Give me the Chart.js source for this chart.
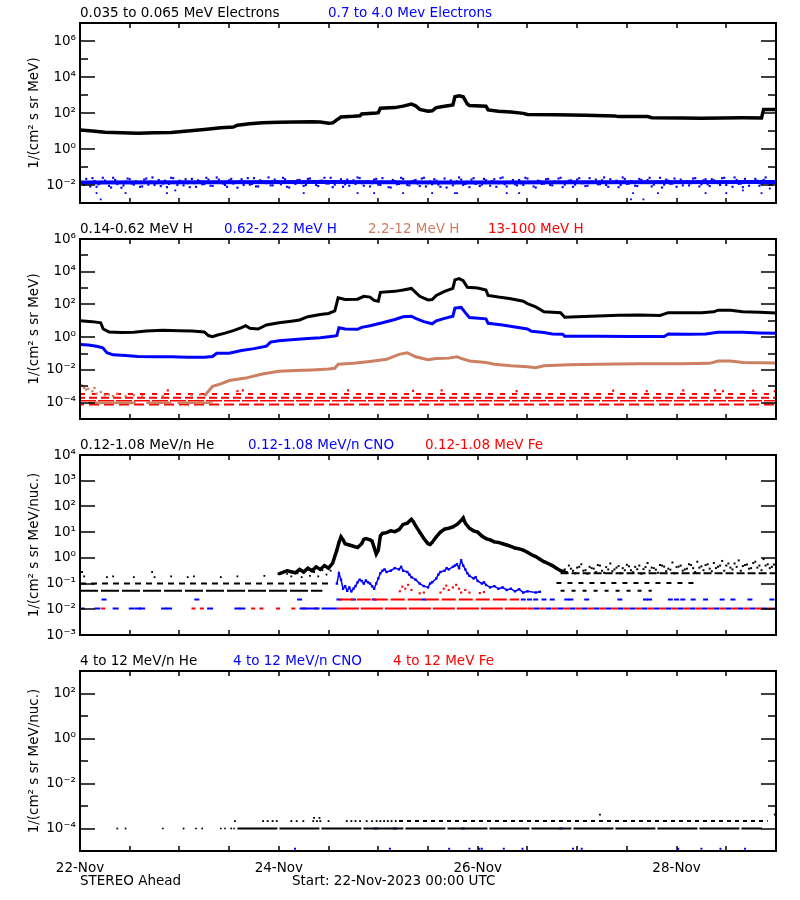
<!DOCTYPE html>
<html>
<head>
<meta charset="utf-8">
<script src="https://cdn.jsdelivr.net/npm/chart.js@4.4.1/dist/chart.umd.min.js"></script>
<style>
body{margin:0;background:#fff;width:800px;height:900px;position:relative;overflow:hidden;font-family:'DejaVu Sans',sans-serif;font-size:13.5px}
canvas{position:absolute;left:0;top:0}
.t{position:absolute;white-space:nowrap;line-height:1}
</style>
</head>
<body>
<canvas id="p1" width="800" height="900"></canvas>
<canvas id="p2" width="800" height="900"></canvas>
<canvas id="p3" width="800" height="900"></canvas>
<canvas id="p4" width="800" height="900"></canvas>

<div class="t" style="left:80px;top:6px">0.035 to 0.065 MeV Electrons</div>
<div class="t" style="left:328px;top:6px;color:#0000ff">0.7 to 4.0 Mev Electrons</div>
<div class="t" style="left:80px;top:222px">0.14-0.62 MeV H</div>
<div class="t" style="left:224px;top:222px;color:#0000ff">0.62-2.22 MeV H</div>
<div class="t" style="left:368px;top:222px;color:#cd7f62">2.2-12 MeV H</div>
<div class="t" style="left:488px;top:222px;color:#ff0000">13-100 MeV H</div>
<div class="t" style="left:80px;top:438px">0.12-1.08 MeV/n He</div>
<div class="t" style="left:248px;top:438px;color:#0000ff">0.12-1.08 MeV/n CNO</div>
<div class="t" style="left:425px;top:438px;color:#ff0000">0.12-1.08 MeV Fe</div>
<div class="t" style="left:80px;top:654px">4 to 12 MeV/n He</div>
<div class="t" style="left:233px;top:654px;color:#0000ff">4 to 12 MeV/n CNO</div>
<div class="t" style="left:393px;top:654px;color:#ff0000">4 to 12 MeV Fe</div>
<div class="t" style="left:80px;top:874px">STEREO Ahead</div>
<div class="t" style="left:292px;top:874px">Start: 22-Nov-2023 00:00 UTC</div>

<script>
// time axis: hours since 22-Nov-2023 00:00 UTC, values stored as log10(flux)
const dayLabels = ['22-Nov', '24-Nov', '26-Nov', '28-Nov'];
const dayHours = [0, 48, 96, 144];

// ---- panel 1: electrons
const e1Low = [[0,1.05],[3,1.0],[6,0.93],[10,0.9],[14,0.88],[18,0.9],[22,0.92],[26,1.0],[30,1.08],[34,1.18],[37,1.22],[38,1.32],[41,1.4],[44,1.46],[48,1.48],[52,1.5],[56,1.52],[58,1.5],[60,1.43],[61,1.45],[62,1.62],[63,1.78],[66,1.82],[67.6,1.85],[68,1.95],[71.5,2.0],[72,2.02],[72.5,2.26],[76,2.3],[78,2.38],[80,2.5],[81,2.4],[82,2.2],[84,2.1],[85,2.12],[86,2.3],[88,2.38],[90,2.45],[90.5,2.9],[91.5,2.96],[92.5,2.9],[93.5,2.5],[94,2.42],[98,2.38],[98.5,2.17],[101,2.1],[104,2.05],[107,1.98],[108,1.92],[115,1.9],[122,1.87],[129,1.84],[130,1.8],[137,1.8],[138,1.74],[145,1.72],[150,1.71],[155,1.72],[160,1.73],[164.5,1.72],[165,2.2],[168,2.2]];
const e2Core = [[0,-1.86],[30,-1.85],[60,-1.84],[90,-1.86],[120,-1.85],[168,-1.84]];
const e2Speck = [
-1.7,-2.0,-1.85,-1.62,-2.1,-1.9,-1.75,-2.05,-1.6,-1.95,
-2.15,-1.8,-1.68,-1.98,-1.88,-2.08,-1.64,-1.82,-2.0,-1.72,
-1.92,-2.12,-1.6,-1.86,-1.76,-2.02,-1.9,-1.66,-2.1,-1.8,
-1.95,-1.7,-2.05,-1.58,-1.88,-2.0,-1.74,-1.92,-2.15,-1.68,
-1.84,-1.98,-1.62,-2.08,-1.78,-1.9,-2.02,-1.7,-1.86,-1.6,
-2.1,-1.82,-1.94,-1.72,-2.05,-1.66,-1.88,-2.0,-1.76,-1.6,
-1.92,-2.12,-1.8,-1.68,-1.96,-2.04,-1.74,-1.58,-1.9,-1.84,
-2.08,-1.7,-1.98,-1.62,-1.86,-2.14,-1.78,-1.94,-1.66,-2.0,
-1.82,-1.72,-2.06,-1.6,-1.9,-1.96,-1.76,-2.1,-1.64,-1.88,
-2.02,-1.8,-1.7,-1.94,-2.12,-1.62,-1.86,-1.98,-1.74,-2.04,
-1.68,-1.9,-1.58,-2.08,-1.82,-1.96,-1.72,-2.0,-1.64,-1.88,
-2.14,-1.78,-1.92,-1.66,-2.02,-1.84,-1.6,-1.98,-1.76,-2.1,
-1.7,-1.9,-2.06,-1.62,-1.86,-1.96,-1.74,-2.0,-1.68,-1.82,
-2.12,-1.58,-1.94,-1.78,-2.04,-1.66,-1.88,-1.72,-2.08,-1.84,
-1.6,-1.98,-1.76,-1.92,-2.1,-1.7,-1.86,-2.02,-1.64,-1.8,
-1.96,-1.68,-2.06,-1.74,-1.9,-1.62,-2.0,-1.82,-1.58,-1.94,
-2.12,-1.78,-1.88,-1.66,-2.04,-1.72,-1.86,-1.98,-1.6];
// second pass, half-hour samples
const e2SpeckHalf = [
-1.9,-1.66,-2.08,-1.78,-1.96,-1.6,-1.84,-2.14,-1.72,-1.88,
-2.02,-1.64,-1.92,-1.8,-2.1,-1.7,-1.98,-1.58,-1.86,-2.06,
-1.76,-1.94,-1.62,-2.0,-1.82,-1.68,-2.12,-1.9,-1.74,-1.96,
-1.6,-2.04,-1.84,-1.7,-1.92,-2.1,-1.66,-1.88,-1.78,-2.0,
-1.62,-1.94,-2.08,-1.74,-1.86,-1.58,-2.02,-1.8,-1.96,-1.68,
-2.14,-1.84,-1.72,-1.9,-2.0,-1.64,-1.88,-2.06,-1.76,-1.92,
-1.6,-1.98,-1.82,-2.1,-1.7,-1.86,-1.94,-1.62,-2.04,-1.78,
-1.9,-1.66,-2.0,-1.84,-2.12,-1.72,-1.96,-1.6,-1.88,-2.02,
-1.76,-1.92,-1.64,-2.08,-1.8,-1.68,-1.98,-1.86,-2.14,-1.74,
-1.9,-1.58,-2.0,-1.82,-1.7,-1.94,-2.06,-1.66,-1.88,-1.78,
-2.1,-1.62,-1.96,-1.84,-1.72,-2.02,-1.9,-1.6,-1.86,-2.08,
-1.76,-1.94,-1.68,-2.0,-1.8,-1.64,-2.12,-1.88,-1.74,-1.98,
-1.62,-1.9,-2.04,-1.82,-1.7,-1.96,-1.58,-2.1,-1.86,-1.76,
-2.0,-1.66,-1.92,-1.84,-2.06,-1.72,-1.88,-1.6,-1.98,-1.8,
-2.14,-1.7,-1.94,-1.64,-1.86,-2.02,-1.78,-1.9,-1.62,-2.08,
-1.74,-1.96,-1.68,-1.88,-2.0,-1.6,-1.84,-2.1,-1.72,-1.92,
-1.66,-2.04,-1.82,-1.76,-1.94,-1.58,-1.98,-1.86];
const e2Out = [[4,-2.45],[5,-2.8],[11,-2.45],[21,-2.45],[23,-2.3],[54,-2.45],[67,-2.45],[71,-2.45],[78,-2.45],[85,-2.45],[90.5,-2.45],[91,-2.45],[103,-2.45],[106,-2.45],[133,-2.8],[133.5,-2.45],[136,-2.8],[139.5,-2.45],[151,-2.45],[156,-2.45],[160,-2.3],[164.5,-2.45],[166.5,-2.2]];

// ---- panel 2: protons
const hLow = [[0,1.0],[3,0.95],[5,0.88],[5.6,0.5],[7,0.32],[10,0.28],[13,0.3],[16,0.38],[20,0.42],[24,0.4],[27,0.38],[30,0.32],[31,0.1],[32,0.03],[33,0.12],[35,0.25],[37,0.4],[39,0.58],[40,0.7],[41,0.55],[43,0.5],[45,0.75],[48,0.88],[51,0.98],[53,1.05],[55,1.25],[58,1.38],[60,1.45],[61.5,1.6],[62.3,2.4],[64,2.3],[67,2.32],[68.5,2.5],[70,2.45],[71,2.25],[72,2.2],[72.5,2.74],[76,2.8],[78,2.88],[80,2.98],[82,2.5],[84,2.28],[85,2.3],[86,2.55],[88,2.8],[90,2.98],[90.5,3.5],[91.5,3.58],[92.5,3.45],[93.5,3.05],[96,3.0],[98,2.88],[98.5,2.55],[101,2.45],[104,2.35],[107,2.2],[108,2.05],[110,1.85],[112,1.55],[116,1.5],[117,1.22],[120,1.25],[125,1.3],[130,1.34],[135,1.35],[140,1.33],[142,1.5],[146,1.5],[150,1.5],[153,1.55],[154,1.65],[157,1.64],[160,1.55],[164,1.52],[168,1.48]];
const hMid = [[0,-0.45],[2,-0.48],[4,-0.55],[5.5,-0.65],[6.5,-0.95],[8,-1.08],[11,-1.12],[14,-1.18],[18,-1.2],[22,-1.2],[26,-1.22],[30,-1.22],[32,-1.18],[33,-0.98],[36,-0.98],[39,-0.82],[42,-0.7],[45,-0.55],[46,-0.3],[48,-0.22],[51,-0.15],[55,-0.08],[58,-0.03],[61,0.05],[62,0.1],[62.5,0.58],[64,0.5],[67,0.48],[68,0.6],[70,0.7],[73,0.88],[76,1.08],[78,1.25],[80,1.28],[81,1.15],[83,0.95],[85,0.82],[86,1.0],[88,1.15],[90,1.28],[90.5,1.78],[92,1.82],[93,1.5],[94,1.2],[98,1.12],[98.5,0.85],[102,0.75],[105,0.62],[108,0.5],[109,0.36],[112,0.28],[114,0.2],[116.5,0.18],[117,0.06],[125,0.05],[133,0.04],[141,0.04],[142,0.2],[147,0.18],[151,0.2],[154,0.3],[160,0.3],[164,0.26],[168,0.24]];
const hHigh = [[30,-3.6],[31,-3.3],[32,-3.0],[34,-2.85],[36,-2.65],[40,-2.5],[44,-2.25],[48,-2.08],[52,-2.03],[56,-2.0],[60,-1.95],[61.5,-1.9],[62.3,-1.65],[66,-1.6],[70,-1.48],[74,-1.35],[77,-1.05],[79,-0.95],[81,-1.2],[84,-1.38],[86,-1.3],[89,-1.28],[91,-1.2],[92,-1.3],[94,-1.45],[98,-1.55],[100,-1.65],[104,-1.75],[108,-1.8],[110,-1.86],[112,-1.75],[118,-1.68],[125,-1.65],[135,-1.63],[145,-1.62],[152,-1.6],[154,-1.46],[157,-1.46],[160,-1.55],[168,-1.58]];
const hHighEarly = [[0,-3.0],[0.5,-2.95],[1,-3.1],[1.5,-3.2],[2,-3.15],[3,-3.3],[3.5,-3.1],[4,-3.45],[5,-3.35],[6,-3.55],[7,-3.5],[8,-3.6],[9,-3.45],[11,-3.6],[13,-3.55],[15,-3.6],[20,-3.6],[27,-3.55],[29,-3.5]];
const hHighFloor = [[2,-4.0],[13.5,-4.0],[14,null],[16,-4.0],[22,-4.0],[23,null],[23.5,-4.0],[32,-4.0]];
const hTopLevels = [-3.47, -3.7, -3.88, -4.12];
const hTopDots = [[21.2,-3.25],[38,-3.3],[39.3,-3.25],[64.7,-3.25],[80.4,-3.28],[87.3,-3.25],[105.4,-3.3],[128.7,-3.27],[136.8,-3.3],[145.6,-3.25],[153.3,-3.25],[155.2,-3.3],[162.5,-3.27],[167.7,-3.3]];

// ---- panel 3: 0.12-1.08 MeV/n ions
const heEvent = [[48,-0.62],[50,-0.5],[52,-0.58],[53,-0.45],[54,-0.55],[55,-0.4],[56,-0.5],[57,-0.35],[58,-0.45],[59,-0.3],[60,-0.4],[61,-0.2],[61.5,0.05],[62,0.3],[62.5,0.6],[63,0.82],[63.5,0.7],[64,0.55],[65,0.5],[66,0.45],[67,0.4],[68,0.55],[68.5,0.72],[69,0.75],[70,0.7],[70.5,0.65],[71,0.4],[71.5,0.15],[72,0.3],[72.5,0.85],[73,0.95],[74,0.98],[75,1.05],[76,1.02],[77,1.1],[78,1.3],[79,1.35],[80,1.5],[80.5,1.4],[81,1.25],[82,1.0],[83,0.75],[84,0.55],[84.5,0.52],[85,0.6],[86,0.82],[87,1.0],[88,1.12],[89,1.15],[90,1.2],[91,1.3],[92,1.45],[92.5,1.55],[93,1.35],[94,1.15],[95,1.05],[96,1.0],[97,0.85],[98,0.75],[99,0.7],[100,0.62],[101,0.6],[102,0.55],[103,0.5],[104,0.45],[105,0.38],[106,0.35],[107,0.3],[108,0.22],[109,0.12],[110,0.05],[111,-0.05],[112,-0.15],[113,-0.22],[114,-0.3],[115,-0.4],[116,-0.5],[117,-0.55]];
const heBgDots = [[0.5,-0.55],[1,-0.72],[6.5,-0.75],[8,-0.72],[13,-0.75],[17.4,-0.55],[18,-0.75],[22,-0.72],[26,-0.75],[27.5,-0.72],[34,-0.75],[38,-0.72],[44.5,-0.7],[50,-0.62],[51,-0.72],[52.5,-0.6],[53.5,-0.75],[54.5,-0.45],[55.5,-0.7],[56.5,-0.55],[57.5,-0.72],[58.5,-0.48],[59.5,-0.65],[60.5,-0.5]];
const hePost = [
-0.45,-0.3,-0.5,-0.38,-0.25,-0.48,-0.35,-0.42,-0.28,-0.5,
-0.36,-0.22,-0.45,-0.32,-0.4,-0.27,-0.48,-0.35,-0.3,-0.44,
-0.2,-0.38,-0.46,-0.28,-0.34,-0.42,-0.18,-0.36,-0.3,-0.45,
-0.25,-0.4,-0.15,-0.33,-0.28,-0.42,-0.2,-0.35,-0.12,-0.3,
-0.38,-0.22,-0.1,-0.32,-0.26,-0.4,-0.15,-0.3,-0.05,-0.25,
-0.35,-0.2];
const hePostHalf = [
-0.55,-0.42,-0.6,-0.35,-0.5,-0.62,-0.4,-0.55,-0.3,-0.58,
-0.45,-0.52,-0.38,-0.6,-0.48,-0.33,-0.56,-0.44,-0.62,-0.36,
-0.5,-0.4,-0.58,-0.3,-0.52,-0.46,-0.6,-0.34,-0.5,-0.42,
-0.28,-0.55,-0.38,-0.48,-0.25,-0.52,-0.4,-0.3,-0.5,-0.22,
-0.45,-0.35,-0.5,-0.28,-0.42,-0.2,-0.38,-0.48,-0.3,-0.4,
-0.26];
const cnoEvent = [[62,-1.0],[62.5,-0.6],[63,-0.85],[63.5,-1.2],[64,-1.1],[64.5,-1.28],[65,-1.15],[65.5,-1.3],[66,-1.2],[66.5,-1.1],[67,-0.95],[67.5,-0.85],[68,-0.9],[68.5,-1.0],[69,-0.88],[69.5,-0.95],[70,-1.0],[70.5,-1.1],[71,-1.2],[71.5,-1.0],[72,-0.8],[72.5,-0.6],[73,-0.5],[73.5,-0.45],[74,-0.55],[75,-0.5],[76,-0.4],[77,-0.45],[77.5,-0.35],[78,-0.5],[79,-0.55],[79.5,-0.65],[80,-0.75],[81,-0.85],[82,-1.0],[83,-1.1],[84,-1.15],[84.5,-1.0],[85,-0.95],[86,-0.8],[86.5,-0.65],[87,-0.55],[88,-0.5],[88.5,-0.4],[89,-0.45],[90,-0.35],[90.5,-0.3],[91,-0.25],[91.5,-0.4],[92,-0.1],[92.5,-0.3],[93,-0.45],[93.5,-0.6],[94,-0.7],[95,-0.8],[95.5,-0.75],[96,-0.9],[97,-1.0],[97.5,-0.95],[98,-1.05],[99,-1.15],[100,-1.1],[101,-1.2],[102,-1.15],[103,-1.25],[104,-1.2],[105,-1.3],[106,-1.22],[107,-1.35],[108,-1.3],[110,-1.35],[111,-1.32]];
const cnoLowHours = [0.4,4.2,8.6,12.5,14,15,20.3,21.5,31.4,38,39.2];
const cnoMidHours = [5.8,28.2,53,62.5,66,71,83,107,108.5,110,112,114,117.5,118.5,122.3,130.3,136.5,137.5,142.5,144,145.5,148,151,155,157.6,161.7,167];
const feEvent = [[77.2,-1.3],[77.8,-1.12],[78.5,-1.2],[79.2,-1.05],[80,-1.25],[82,-1.38],[83,-1.35],[87,-1.35],[87.8,-1.2],[88.4,-1.08],[89,-1.25],[90,-1.15],[90.8,-1.05],[91.5,-1.2],[92,-1.35],[93,-1.25],[94,-1.35],[96.5,-1.37],[97.5,-1.33]];
const feLowHours = [5.6,27.4,29.4,41.8,43.8,47.8,51.5,54,57];
const ionLowLevel = -1.97;
const ionMidLevel = -1.62;

// ---- panel 4: 4-12 MeV/n ions
const he4Dots = [9,11,20,25,28,29.5,34,35,36.5,37.2];
const he4UpperHours = [37.4,44.2,45.3,46.5,47.5,51,52.3,53.9,56.3,57.2,58,60,64.4,65.5,66.5,67.6,69.2,70.5,71.6,72.5,73.4,74.3,75.2,76.2];
const he4High = [[56.5,-3.53],[57.8,-3.53],[125.5,-3.38],[167.7,-3.38]];
const cno4Hours = [51.9,74.8,89.1,94,96.4,97,102.3,106.8,119,121.1,144.4,150,154.6,160.5];
const cno4RowHours = [71.4,76,92.5,116];

const BLACK = '#000000', BLUE = '#0000ff', BROWN = '#cd7f62', RED = '#ff0000';
const FONT = "'DejaVu Sans', sans-serif";
const SUP = {'-':'⁻','0':'⁰','1':'¹','2':'²','3':'³','4':'⁴','5':'⁵','6':'⁶','7':'⁷','8':'⁸','9':'⁹'};
const expLabel = e => '10' + String(e).split('').map(c => SUP[c]).join('');

const pairs = arr => arr.map(([h, v]) => ({x: h, y: v === null ? null : Math.pow(10, v)}));
const hourly = (arr, start) => arr.map((v, i) => ({x: start + i, y: Math.pow(10, v)}));
const atLevel = (level, hours) => hours.map(h => ({x: h, y: Math.pow(10, level)}));

const lineSet = (data, color, width) => ({data, showLine: true, borderColor: color, borderWidth: width, pointRadius: 0, spanGaps: false});
const trailSet = (data, color, width, r) => ({data, showLine: true, borderColor: color, backgroundColor: color, borderWidth: width, pointStyle: 'rect', pointRadius: r, pointBorderWidth: 0, spanGaps: false});
const dotSet = (data, color, r) => ({data, showLine: false, pointStyle: 'rect', pointRadius: r || 1.5, backgroundColor: color, borderColor: color, borderWidth: 0});
const dashPts = (data, color, r) => ({data, showLine: false, pointStyle: 'line', pointRadius: r || 3, borderColor: color, borderWidth: 2});
const rowSet = (level, from, to, color, dash, offset, width) => ({data: pairs([[from, level], [to, level]]), showLine: true, borderColor: color, borderWidth: width || 2, borderDash: dash, borderDashOffset: offset || 0, pointRadius: 0});

const framePlugin = {
  id: 'frame',
  afterDraw(chart, args, opts) {
    const {ctx, chartArea: a, scales: {x, y}} = chart;
    ctx.save();
    ctx.strokeStyle = '#000';
    ctx.lineWidth = 2;
    ctx.strokeRect(a.left, a.top, a.right - a.left, a.bottom - a.top);
    ctx.lineWidth = 1.5;
    ctx.beginPath();
    for (let h = 12; h < 168; h += 12) {
      const px = Math.round(x.getPixelForValue(h));
      ctx.moveTo(px, a.top); ctx.lineTo(px, a.top + 5);
      ctx.moveTo(px, a.bottom); ctx.lineTo(px, a.bottom - 5);
    }
    for (let e = opts.min + 1; e < opts.max; e++) {
      const py = Math.round(y.getPixelForValue(Math.pow(10, e)));
      const len = (e % opts.every === 0) ? 15 : 8;
      ctx.moveTo(a.left, py); ctx.lineTo(a.left + len, py);
      ctx.moveTo(a.right, py); ctx.lineTo(a.right - len, py);
    }
    ctx.stroke();
    ctx.restore();
  }
};

function makePanel(id, p) {
  const exps = [];
  for (let e = p.min; e <= p.max; e++) exps.push(e);
  return new Chart(document.getElementById(id), {
    type: 'scatter',
    data: {datasets: p.datasets},
    options: {
      responsive: false,
      animation: false,
      events: [],
      layout: {padding: {left: 0, right: 24, top: p.top, bottom: 900 - p.bottom - (p.showX ? 40 : 0)}},
      plugins: {legend: {display: false}, tooltip: {enabled: false}, frame: {min: p.min, max: p.max, every: p.every}},
      scales: {
        x: {
          type: 'linear', min: 0, max: 168, display: !!p.showX,
          grid: {display: false, drawTicks: false}, border: {display: false},
          afterBuildTicks: s => { s.ticks = dayHours.map(v => ({value: v})); },
          afterFit: s => { s.height = p.showX ? 40 : 0; },
          ticks: {autoSkip: false, maxRotation: 0, padding: 9, color: '#000', font: {family: FONT, size: 13.5},
            callback: (v, i) => dayLabels[i]}
        },
        y: {
          type: 'logarithmic', min: Math.pow(10, p.min), max: Math.pow(10, p.max),
          grid: {display: false, drawTicks: false}, border: {display: false},
          afterBuildTicks: s => { s.ticks = exps.map(e => ({value: Math.pow(10, e)})); },
          afterFit: s => { s.width = 80; },
          ticks: {autoSkip: false, padding: 4, color: '#000', font: {family: FONT, size: 13.5},
            callback: v => { const e = Math.round(Math.log10(v)); return p.labels.includes(e) ? expLabel(e) : ''; }},
          title: {display: true, text: p.yTitle, color: '#000', font: {family: FONT, size: 13.5}, padding: {top: 26, bottom: 0}}
        }
      }
    },
    plugins: [framePlugin]
  });
}

makePanel('p1', {
  top: 23, bottom: 203, min: -3, max: 7, every: 2, labels: [6, 4, 2, 0, -2],
  yTitle: '1/(cm² s sr MeV)',
  datasets: [
    lineSet(pairs(e1Low), BLACK, 3.5),
    lineSet(pairs(e2Core), BLUE, 4),
    dotSet(hourly(e2Speck, 0), BLUE, 1.5),
    dotSet(hourly(e2SpeckHalf, 0.5), BLUE, 1.5),
    dotSet(pairs(e2Out), BLUE, 1.3)
  ]
});

makePanel('p2', {
  top: 239, bottom: 419, min: -5, max: 6, every: 2, labels: [6, 4, 2, 0, -2, -4],
  yTitle: '1/(cm² s sr MeV)',
  datasets: [
    lineSet(pairs(hLow), BLACK, 3),
    lineSet(pairs(hMid), BLUE, 3),
    lineSet(pairs(hHigh), BROWN, 3),
    dotSet(pairs(hHighEarly), BROWN, 1.6),
    lineSet(pairs(hHighFloor), BROWN, 2.5),
    rowSet(hTopLevels[0], 0, 168, RED, [5, 7]),
    rowSet(hTopLevels[1], 0, 168, RED, [8, 4], 3),
    rowSet(hTopLevels[2], 0, 168, RED, [16, 2], 0, 1.5),
    rowSet(hTopLevels[3], 0, 168, RED, [10, 5], 6),
    dotSet(pairs(hTopDots), RED, 1.5)
  ]
});

makePanel('p3', {
  top: 455, bottom: 635, min: -3, max: 4, every: 1, labels: [4, 3, 2, 1, 0, -1, -2, -3],
  yTitle: '1/(cm² s sr MeV/nuc.)',
  datasets: [
    trailSet(pairs(heEvent), BLACK, 3.5, 1.8),
    dotSet(pairs(heBgDots), BLACK, 1.3),
    dotSet(hourly(hePost, 117), BLACK, 1.4),
    dotSet(hourly(hePostHalf, 117.5), BLACK, 1.4),
    rowSet(-1.0, 0, 61, BLACK, [6, 5]),
    rowSet(-1.28, 0, 58.5, BLACK, [18, 3]),
    rowSet(-0.6, 116, 168, BLACK, [8, 3]),
    rowSet(-0.98, 115, 149, BLACK, [5, 6]),
    rowSet(-1.28, 116, 138, BLACK, [4, 7]),
    trailSet(pairs(cnoEvent), BLUE, 1.5, 1.7),
    dotSet(pairs(feEvent), RED, 1.5),
    dashPts(atLevel(ionLowLevel, cnoLowHours), BLUE, 3),
    rowSet(ionLowLevel, 53, 62, BLUE, [20, 2]),
    dashPts(atLevel(ionLowLevel, feLowHours), RED, 2),
    rowSet(ionLowLevel, 62, 108, RED, [22, 2]),
    rowSet(ionLowLevel, 108, 168, RED, [6, 6]),
    rowSet(ionLowLevel, 108, 168, BLUE, [6, 6], 6),
    rowSet(ionMidLevel, 62.7, 106, RED, [14, 3]),
    dashPts(atLevel(ionMidLevel, cnoMidHours), BLUE, 2.5)
  ]
});

makePanel('p4', {
  top: 671, bottom: 851, min: -5, max: 3, every: 2, labels: [2, 0, -2, -4], showX: true,
  yTitle: '1/(cm² s sr MeV/nuc.)',
  datasets: [
    dotSet(atLevel(-4.0, he4Dots), BLACK, 1.2),
    rowSet(-4.0, 38, 164.6, BLACK, [40, 2]),
    dotSet(atLevel(-3.67, he4UpperHours), BLACK, 1.3),
    rowSet(-3.67, 77, 166, BLACK, [4, 4]),
    dotSet(pairs(he4High), BLACK, 1.3),
    dotSet(atLevel(-4.9, cno4Hours), BLUE, 1.4),
    dashPts(atLevel(-4.0, cno4RowHours), BLUE, 2)
  ]
});
</script>
</body>
</html>
